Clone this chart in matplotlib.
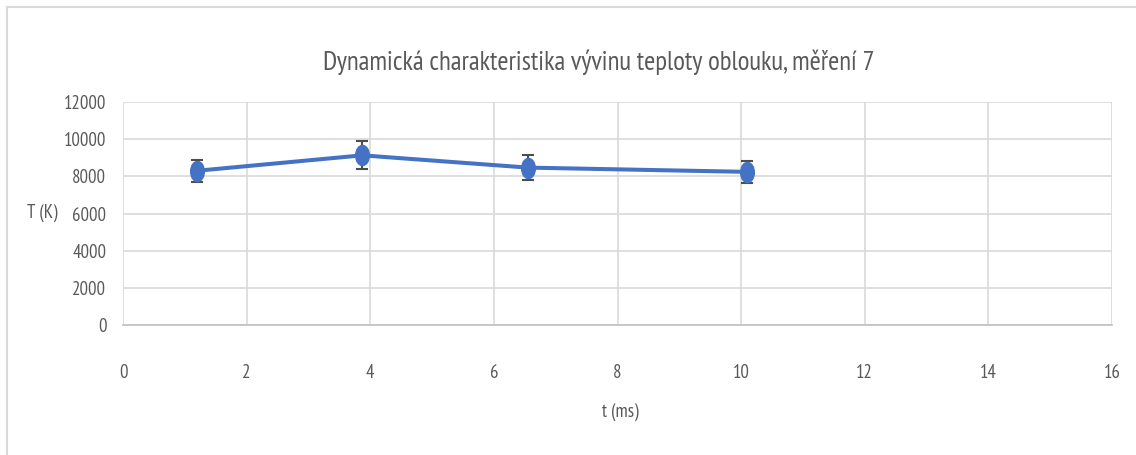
import matplotlib
matplotlib.use("Agg")
import matplotlib.pyplot as plt
from matplotlib.path import Path
from matplotlib.transforms import Affine2D
from matplotlib.lines import Line2D

# data
t_ms = [1.2, 3.87, 6.55, 10.1]
temp_k = [8300, 9130, 8470, 8240]
temp_err = [600, 750, 690, 590]

x_ticks = [0, 2, 4, 6, 8, 10, 12, 14, 16]
y_ticks = [0, 2000, 4000, 6000, 8000, 10000, 12000]

title = "Dynamická charakteristika vývinu teploty oblouku, měření 7"
x_label = "t (ms)"
y_label = "T (K)"

plt.rcParams["font.family"] = ["PT Sans Narrow", "DejaVu Sans"]

text_col = "#595959"
grid_col = "#d9d9d9"
line_col = "#4472c4"

fig = plt.figure(figsize=(11.36, 4.55), dpi=100)
ax = fig.add_axes([123 / 1136, 1 - 325 / 455, (1112 - 123) / 1136, (325 - 102) / 455])

# Excel's round markers come out as tall ellipses in the squeezed reference
ellipse = Path.unit_circle().transformed(Affine2D().scale(0.68, 1.0))

ax.errorbar(t_ms, temp_k, yerr=temp_err, color=line_col, lw=2.9,
            marker=ellipse, markersize=14.5, markerfacecolor=line_col,
            markeredgecolor=line_col, ecolor="#4d4d4d", elinewidth=1.5,
            capsize=4, capthick=1.5, zorder=3)

ax.set_xlim(0, 16)
ax.set_ylim(0, 12000)
ax.set_xticks(x_ticks)
ax.set_yticks(y_ticks)
ax.grid(True, color=grid_col, lw=1.2)
ax.set_axisbelow(True)
for s in ["top", "right", "left"]:
    ax.spines[s].set_visible(False)
ax.spines["bottom"].set_color("#bfbfbf")
ax.spines["bottom"].set_linewidth(1.2)
ax.tick_params(length=0, colors=text_col, labelsize=13.5)
ax.tick_params(axis="x", pad=28)
ax.tick_params(axis="y", pad=12)

fig.text(620 / 1136, 1 - 413 / 455, x_label, ha="center", va="center",
         fontsize=13.5, color=text_col)
fig.text(42 / 1136, 1 - 213 / 455, y_label, ha="center", va="center",
         fontsize=13.5, color=text_col)
fig.text(599 / 1136, 1 - 62 / 455, title, ha="center", va="center",
         fontsize=19.4, color=text_col)

# chart-area border (only the top and left edges show in the reference)
fig.add_artist(Line2D([7 / 1136, 7 / 1136], [0, 1 - 7 / 455], color=grid_col, lw=1.5))
fig.add_artist(Line2D([7 / 1136, 1], [1 - 7 / 455, 1 - 7 / 455], color=grid_col, lw=1.5))

fig.savefig("out.png", dpi=100)
